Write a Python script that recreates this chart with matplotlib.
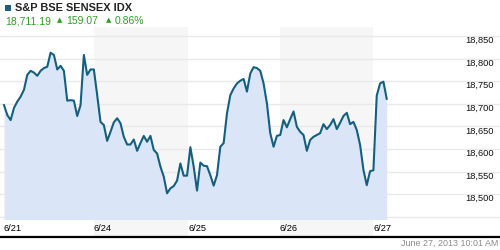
import matplotlib
matplotlib.use("Agg")
import matplotlib.pyplot as plt
from matplotlib.lines import Line2D

plt.rcParams['font.family'] = ['Liberation Sans', 'DejaVu Sans']

title = "S&P BSE SENSEX IDX"
last_price = "18,711.19"
change = "159.07"
change_pct = "0.86%"
timestamp = "June 27, 2013 10:01 AM"

values = [
    18697, 18675, 18664, 18691, 18705, 18716, 18731, 18764, 18773, 18769,
    18762, 18773, 18779, 18782, 18813, 18808, 18776, 18784, 18773, 18707,
    18708, 18707, 18673, 18697, 18808, 18764, 18776, 18776, 18719, 18660,
    18653, 18618, 18638, 18659, 18668, 18657, 18627, 18610, 18610, 18621,
    18596, 18613, 18629, 18616, 18629, 18598, 18590, 18561, 18539, 18502,
    18513, 18518, 18530, 18568, 18541, 18541, 18604, 18561, 18508, 18570,
    18563, 18562, 18542, 18519, 18542, 18605, 18613, 18679, 18719, 18734,
    18745, 18751, 18755, 18727, 18767, 18781, 18779, 18773, 18745, 18701,
    18635, 18605, 18629, 18631, 18664, 18648, 18666, 18683, 18649, 18638,
    18631, 18596, 18620, 18627, 18631, 18635, 18655, 18644, 18653, 18666,
    18644, 18658, 18673, 18680, 18655, 18660, 18642, 18609, 18554, 18520,
    18551, 18553, 18718, 18745, 18749, 18711,
]
steps = list(range(len(values)))

day_labels = ["6/21", "6/24", "6/25", "6/26", "6/27"]
day_starts = [0, 27, 55.3, 82.9, 110.9]
y_ticks = [18500, 18550, 18600, 18650, 18700, 18750, 18800, 18850]

line_color = "#155f7e"
fill_color = "#dae6f8"
band_color = "#f6f6f6"
grid_color = "#e9e9e9"
green = "#2e9e25"

W, H = 500, 250
fig = plt.figure(figsize=(5, 2.5), dpi=100)

xlim = (-4 / 3.328, (500 - 4) / 3.328)
ylo = 18850 - (220 - 36) / 22.6 * 50
yhi = 18850 + (36 - 27) / 22.6 * 50

# main plot
ax = fig.add_axes([0, 1 - 220 / H, 1, (220 - 27) / H])
ax.set_xlim(*xlim)
ax.set_ylim(ylo, yhi)
for s in ax.spines.values():
    s.set_visible(False)
ax.set_xticks([])
ax.set_yticks([])
for a, b in [(day_starts[1], day_starts[2]), (day_starts[3], day_starts[4])]:
    ax.axvspan(a, b, color=band_color, lw=0, zorder=0)
for v in [18450] + y_ticks:
    ax.axhline(v, color=grid_color, lw=1, zorder=1)
ax.fill_between(steps, values, ylo, color=fill_color, lw=0, zorder=2)
ax.plot(steps, values, color=line_color, lw=1.5, zorder=3, solid_joinstyle='round')
for v in y_ticks:
    ax.text(494 / W, v, f"{v:,}", transform=ax.get_yaxis_transform(),
            ha='right', va='top', fontsize=6.7, color='#111111', zorder=4)

# label row
lx = fig.add_axes([0, 1 - 236 / H, 1, 16 / H])
lx.set_xlim(*xlim)
lx.set_ylim(0, 1)
for s in lx.spines.values():
    s.set_visible(False)
lx.set_xticks([])
lx.set_yticks([])
for a, b in [(day_starts[1], day_starts[2]), (day_starts[3], day_starts[4])]:
    lx.axvspan(a, b, color=band_color, lw=0, zorder=0)
for lab, pos in zip(day_labels, day_starts):
    lx.text(pos, 0.45, lab, ha='left', va='center', fontsize=6.7, color='black')

fig.add_artist(Line2D([0, 1], [1 - 236.5 / H] * 2, color='black', lw=1.6,
                      transform=fig.transFigure))
fig.text(498 / W, 1 - 243.5 / H, timestamp, ha='right', va='center',
         fontsize=6.4, color='#8a8a8a')

# header
fig.add_artist(plt.Rectangle((5 / W, 1 - 11 / H), 6 / W, 6 / H,
                             transform=fig.transFigure, color='#1b5e7e', lw=0))
fig.text(15 / W, 1 - 8 / H, title, ha='left', va='center', fontsize=7.9,
         fontweight='bold', color='#222222')
fig.text(5.5 / W, 1 - 21 / H, last_price, ha='left', va='center', fontsize=7.5,
         color=green)
fig.text(56.5 / W, 1 - 20.5 / H, "\u25b2", ha='left', va='center', fontsize=5,
         color=green, family=['DejaVu Sans'])
fig.text(66 / W, 1 - 21 / H, change, ha='left', va='center', fontsize=7.5,
         color=green)
fig.text(105.5 / W, 1 - 20.5 / H, "\u25b2", ha='left', va='center', fontsize=5,
         color=green, family=['DejaVu Sans'])
fig.text(115 / W, 1 - 21 / H, change_pct, ha='left', va='center', fontsize=7.5,
         color=green)

fig.savefig("out.png", dpi=100)
